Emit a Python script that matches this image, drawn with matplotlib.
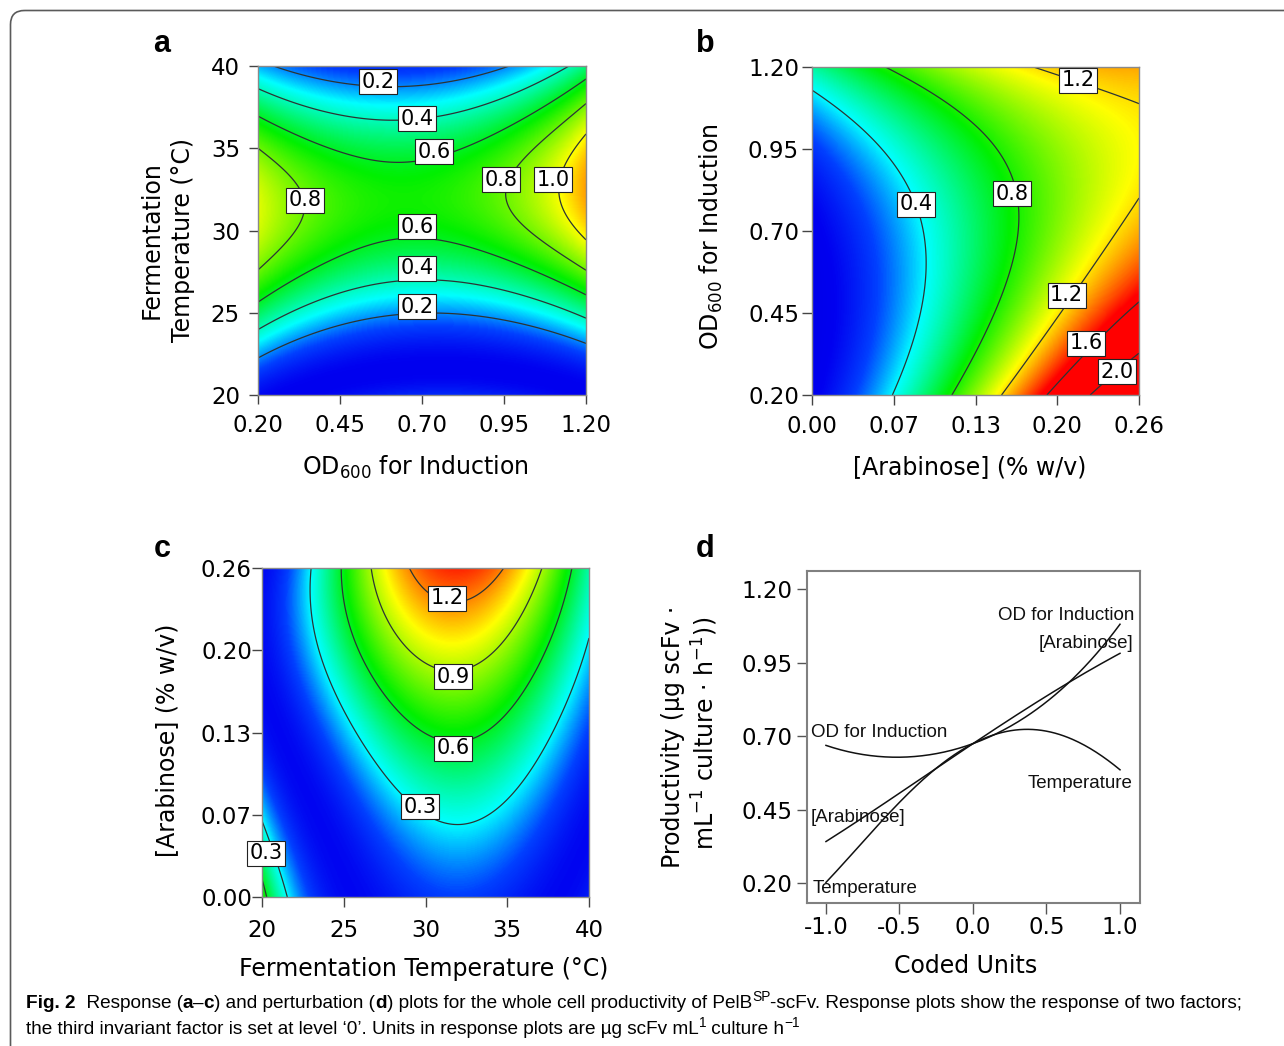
import numpy as np
import matplotlib
matplotlib.use("Agg")
import matplotlib.pyplot as plt
from matplotlib.colors import LinearSegmentedColormap
from matplotlib.patches import FancyBboxPatch

W, H = 1284, 1046

# model on the square-root scale, value at the coded design levels (equally spaced in [-1, 1])
# rows = y factor level (low -> high), cols = x factor level (low -> high)
root_a = [[0.147, -0.277, -0.032],   # x = OD600, y = temperature
          [0.973, 0.790, 1.023],
          [0.488, 0.311, 0.699]]
root_b = [[0.242, 0.992, 1.568],     # x = arabinose, y = OD600
          [0.239, 0.785, 1.130],
          [0.732, 1.037, 1.135]]
root_c = [[-0.830, 0.301, -0.207],   # x = temperature, y = arabinose (4 levels)
          [-0.400, 0.626, 0.165],
          [0.023, 0.915, 0.465],
          [0.064, 1.132, 0.652]]

levels_a = [0.2, 0.4, 0.6, 0.8, 1.0]
levels_b = [0.4, 0.8, 1.2, 1.6, 2.0]
levels_c = [0.3, 0.6, 0.9, 1.2]

# perturbation plot, productivity at coded -1, 0, +1
pert_od = [0.669, 0.675, 1.081]
pert_arab = [0.342, 0.675, 0.982]
pert_temp = [0.203, 0.675, 0.586]

od_range = (0.20, 1.20)
temp_range = (20, 40)
arab_range = (0.00, 0.26)

od_ticks = [0.20, 0.45, 0.70, 0.95, 1.20]
od_labels = ["0.20", "0.45", "0.70", "0.95", "1.20"]
temp_ticks = [20, 25, 30, 35, 40]
temp_labels = ["20", "25", "30", "35", "40"]
arab_ticks = [0.0, 0.065, 0.13, 0.195, 0.26]
arab_labels = ["0.00", "0.07", "0.13", "0.20", "0.26"]
coded_ticks = [-1.0, -0.5, 0.0, 0.5, 1.0]
coded_labels = ["-1.0", "-0.5", "0.0", "0.5", "1.0"]
prod_ticks = [0.20, 0.45, 0.70, 0.95, 1.20]
prod_labels = ["0.20", "0.45", "0.70", "0.95", "1.20"]

# contour label placement (level, x, y) in data units
labels_a = [(0.2, 0.566, 39.05), (0.4, 0.685, 36.78), (0.6, 0.737, 34.79),
            (0.8, 0.343, 31.85), (0.8, 0.941, 33.07), (1.0, 1.099, 33.07),
            (0.6, 0.685, 30.23), (0.4, 0.685, 27.70), (0.2, 0.685, 25.37)]
labels_b = [(1.2, 0.2117, 1.160), (0.4, 0.0827, 0.782), (0.8, 0.1588, 0.813),
            (1.2, 0.2025, 0.504), (1.6, 0.2179, 0.358), (2.0, 0.2423, 0.271)]
labels_c = [(1.2, 31.30, 0.2361), (0.9, 31.70, 0.1741), (0.6, 31.70, 0.1175),
            (0.3, 29.66, 0.0714), (0.3, 20.24, 0.0345)]

plt.rcParams["font.family"] = ["DejaVu Sans"]
plt.rcParams["axes.unicode_minus"] = False

cmap = LinearSegmentedColormap.from_list(
    "de", [(0.0, "#0000dc"), (0.10, "#0000f0"), (0.18, "#0040ff"), (0.30, "#00ffff"),
           (0.52, "#00f000"), (0.76, "#ffff00"), (1.0, "#ff0000")])

ARIAL = ["Liberation Sans", "DejaVu Sans"]

fig = plt.figure(figsize=(W / 100, H / 100), dpi=100)


def place(l, t, r, b):
    return fig.add_axes([l / W, 1 - b / H, (r - l) / W, (b - t) / H])


def lagrange(n, s):
    nodes = np.linspace(-1, 1, n)
    out = []
    for i, xi in enumerate(nodes):
        l = np.ones_like(s)
        for j, xj in enumerate(nodes):
            if j != i:
                l = l * (s - xj) / (xi - xj)
        out.append(l)
    return np.array(out)


def style_ticks(ax, tick_px, xpad_px, ypad_px, tick_color="#444444"):
    ax.tick_params(axis="both", direction="out", length=tick_px * 0.72, width=1,
                   color=tick_color, labelsize=16.5)
    ax.tick_params(axis="x", pad=xpad_px * 0.72)
    ax.tick_params(axis="y", pad=ypad_px * 0.72)


def response_panel(ax, root, xr, yr, levels, vmin, vmax, labels):
    root = np.asarray(root)
    s = np.linspace(-1, 1, 301)
    Z = (lagrange(root.shape[0], s).T @ root @ lagrange(root.shape[1], s)) ** 2
    xs = xr[0] + (s + 1) / 2 * (xr[1] - xr[0])
    ys = yr[0] + (s + 1) / 2 * (yr[1] - yr[0])
    ax.imshow(Z, origin="lower", extent=(xr[0], xr[1], yr[0], yr[1]), aspect="auto",
              cmap=cmap, vmin=vmin, vmax=vmax, interpolation="bilinear")
    ax.contour(xs, ys, Z, levels=levels, colors="#2c3434", linewidths=0.9)
    for lev, x, y in labels:
        ax.text(x, y, f"{lev:.1f}", ha="center", va="center", fontsize=15, zorder=6,
                bbox=dict(boxstyle="square,pad=0.12", fc="white", ec="#222222", lw=0.8))
    ax.set_xlim(xr)
    ax.set_ylim(yr)
    for sp in ax.spines.values():
        sp.set_color("#8a8a8a")
        sp.set_linewidth(1.0)


# panel a
ax_a = place(258, 66, 586, 395)
response_panel(ax_a, root_a, od_range, temp_range, levels_a, -0.15, 1.38, labels_a)
ax_a.set_xticks(od_ticks, od_labels)
ax_a.set_yticks(temp_ticks, temp_labels)
style_ticks(ax_a, 9, 10, 9)

# panel b
ax_b = place(812, 67, 1139, 395)
response_panel(ax_b, root_b, arab_range, od_range, levels_b, -0.09, 1.55, labels_b)
ax_b.set_xticks(arab_ticks, arab_labels)
ax_b.set_yticks(od_ticks, od_labels)
style_ticks(ax_b, 10, 10, 3)

# panel c
ax_c = place(262, 568, 589, 897)
response_panel(ax_c, root_c, temp_range, arab_range, levels_c, -0.17, 1.40, labels_c)
ax_c.set_xticks(temp_ticks, temp_labels)
ax_c.set_yticks(arab_ticks, arab_labels)
style_ticks(ax_c, 10, 12, 0)

# panel d, perturbation (curves are quadratic on the square-root scale)
ax_d = place(807, 571, 1140, 903)
s = np.linspace(-1, 1, 200)
for vals in (pert_od, pert_arab, pert_temp):
    ax_d.plot(s, (np.sqrt(vals) @ lagrange(3, s)) ** 2, color="#111111", lw=1.1)
ax_d.set_xlim(-1.129, 1.136)
ax_d.set_ylim(0.133, 1.262)
ax_d.set_xticks(coded_ticks, coded_labels)
ax_d.set_yticks(prod_ticks, prod_labels)
style_ticks(ax_d, 10.5, 3, 4, tick_color="#555555")
for sp in ax_d.spines.values():
    sp.set_color("#808080")
    sp.set_linewidth(1.5)

curve_labels = [("OD for Induction", 1.095, 1.112, "right"),
                ("[Arabinose]", 1.088, 1.016, "right"),
                ("OD for Induction", -1.102, 0.714, "left"),
                ("Temperature", 1.088, 0.540, "right"),
                ("[Arabinose]", -1.102, 0.424, "left"),
                ("Temperature", -1.088, 0.183, "left")]
for txt, x, y, ha in curve_labels:
    ax_d.text(x, y, txt, ha=ha, va="center", fontsize=13.5, family=ARIAL, color="#111111")


def ftext(x, y, txt, **kw):
    return fig.text(x / W, 1 - y / H, txt, **kw)


# axis titles
LAB = 17
ftext(415, 467, "OD$_{600}$ for Induction", ha="center", va="center", fontsize=LAB)
ftext(152, 240, "Fermentation", ha="center", va="center", rotation=90, fontsize=LAB)
ftext(183, 240, "Temperature (°C)", ha="center", va="center", rotation=90, fontsize=LAB)
ftext(970, 467, "[Arabinose] (% w/v)", ha="center", va="center", fontsize=LAB)
ftext(711, 237, "OD$_{600}$ for Induction", ha="center", va="center", rotation=90, fontsize=LAB)
ftext(424, 969, "Fermentation Temperature (°C)", ha="center", va="center", fontsize=LAB)
ftext(167, 740, "[Arabinose] (% w/v)", ha="center", va="center", rotation=90, fontsize=LAB)
ftext(966, 966, "Coded Units", ha="center", va="center", fontsize=LAB)
ftext(673, 737, "Productivity (µg scFv ·", ha="center", va="center", rotation=90, fontsize=LAB)
ftext(705, 733, "mL$^{-1}$ culture · h$^{-1}$))", ha="center", va="center", rotation=90, fontsize=LAB)

# panel letters
for letter, x, y in (("a", 162, 52), ("b", 705, 52), ("c", 162, 557), ("d", 705, 557)):
    ftext(x, y, letter, ha="center", va="baseline", fontsize=22, fontweight="bold", family=ARIAL)

# frame and caption
over = fig.add_axes([0, 0, 1, 1])
over.set_xlim(0, W)
over.set_ylim(H, 0)
over.axis("off")
over.add_patch(FancyBboxPatch((10.5, 10.5), 1400, 1200, boxstyle="round,pad=0,rounding_size=14",
                              fill=False, ec="#5a5a5a", lw=1.2))

CAP = 13.7


def caption_line(x, y, segments):
    base = over.annotate(segments[0][0], xy=(x, H - y), xycoords="figure pixels", ha="left",
                         va="baseline", fontsize=CAP, family=ARIAL,
                         fontweight="bold" if segments[0][1] == "b" else "normal")
    prev = base
    for txt, st in segments[1:]:
        size = CAP * 0.72 if st == "s" else CAP
        rise = CAP * 0.42 if st == "s" else 0
        prev = over.annotate(txt, xy=(1, 0), xycoords=(prev, base), xytext=(0, rise),
                             textcoords="offset points", ha="left", va="bottom",
                             fontsize=size, family=ARIAL,
                             fontweight="bold" if st == "b" else "normal")


caption_line(26, 1008, [("Fig. 2", "b"), ("  Response (", "r"), ("a", "b"), ("–", "r"),
                        ("c", "b"), (") and perturbation (", "r"), ("d", "b"),
                        (") plots for the whole cell productivity of PelB", "r"), ("SP", "s"),
                        ("-scFv. Response plots show the response of two factors;", "r")])
caption_line(26, 1034, [("the third invariant factor is set at level ‘0’. Units in response plots are µg scFv mL", "r"),
                        ("1", "s"), (" culture h", "r"), ("−1", "s")])

fig.savefig("out.png", dpi=100)
